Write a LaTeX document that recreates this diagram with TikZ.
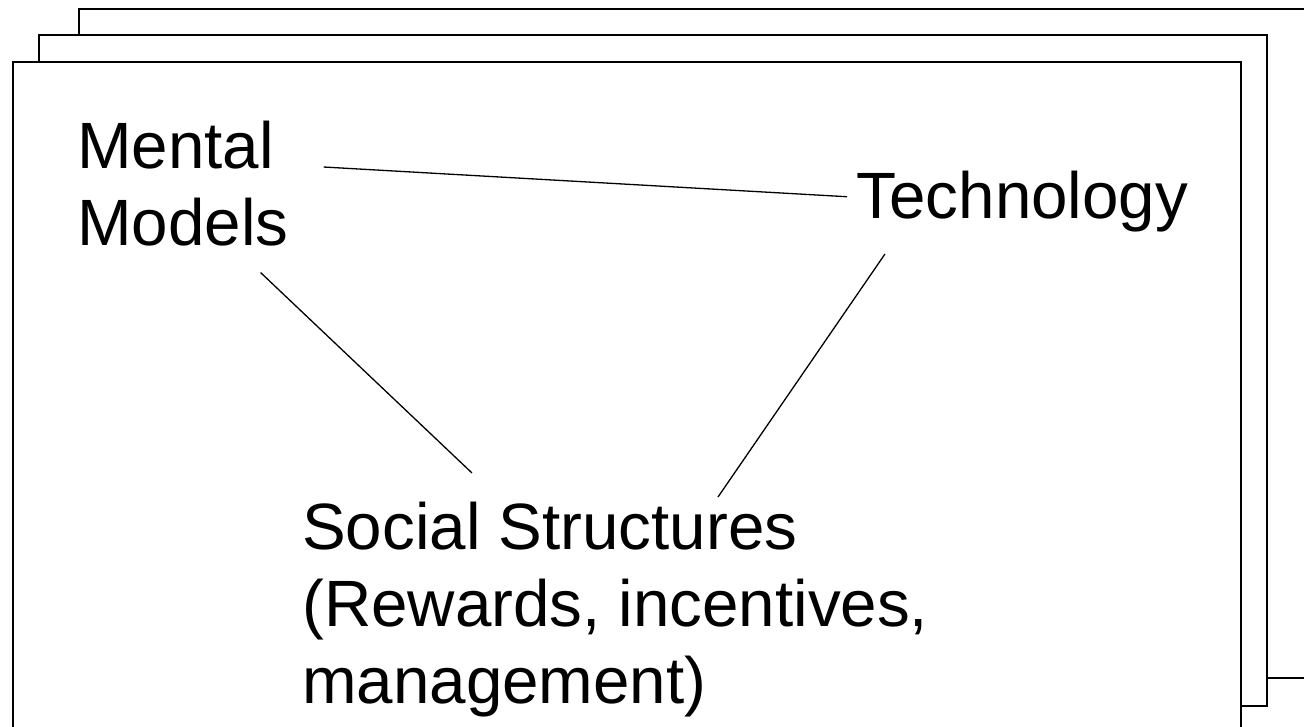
\documentclass[tikz,border=0pt]{standalone}
\usepackage{fontspec}
\setmainfont{Liberation Sans}
\usetikzlibrary{calc}
\tikzset{>=latex}
\tikzset{
	sheet/.style={draw,line width=2pt,fill=white},
	lbl/.style={anchor=north west,inner sep=0pt,align=left,font={\fontsize{65.5}{77}\selectfont}},
	link/.style={line width=1.3pt}
}

\begin{document}
\begin{tikzpicture}[x=1pt,y=-1pt]
		\useasboundingbox (0,0) rectangle (1304,726);
		\clip (0,0) rectangle (1304,726);
		% stacked sheets
		\draw[sheet] (79,8.5) rectangle (1340,678);
		\draw[sheet] (39,34.5) rectangle (1267,706);
		\draw[sheet] (13,62) rectangle (1241,760);
		% labels
		\node[lbl] (mental) at (77,121) {Mental\\Models};
		\node[lbl] (tech) at (856.5,171) {Technology};
		\node[lbl] (social) at (302,502) {Social Structures\\(Rewards, incentives,\\management)};
		% links
		\draw[link] ($(mental.north east)+(35,46)$) -- ($(tech.west)+(-9.5,-5)$);
		\draw[link] ($(mental.south east)+(-28,26)$) -- ($(social.north west)+(170,-29)$);
		\draw[link] ($(tech.south west)+(28.5,21.5)$) -- ($(social.north west)+(416,-5)$);
	\end{tikzpicture}
\end{document}
